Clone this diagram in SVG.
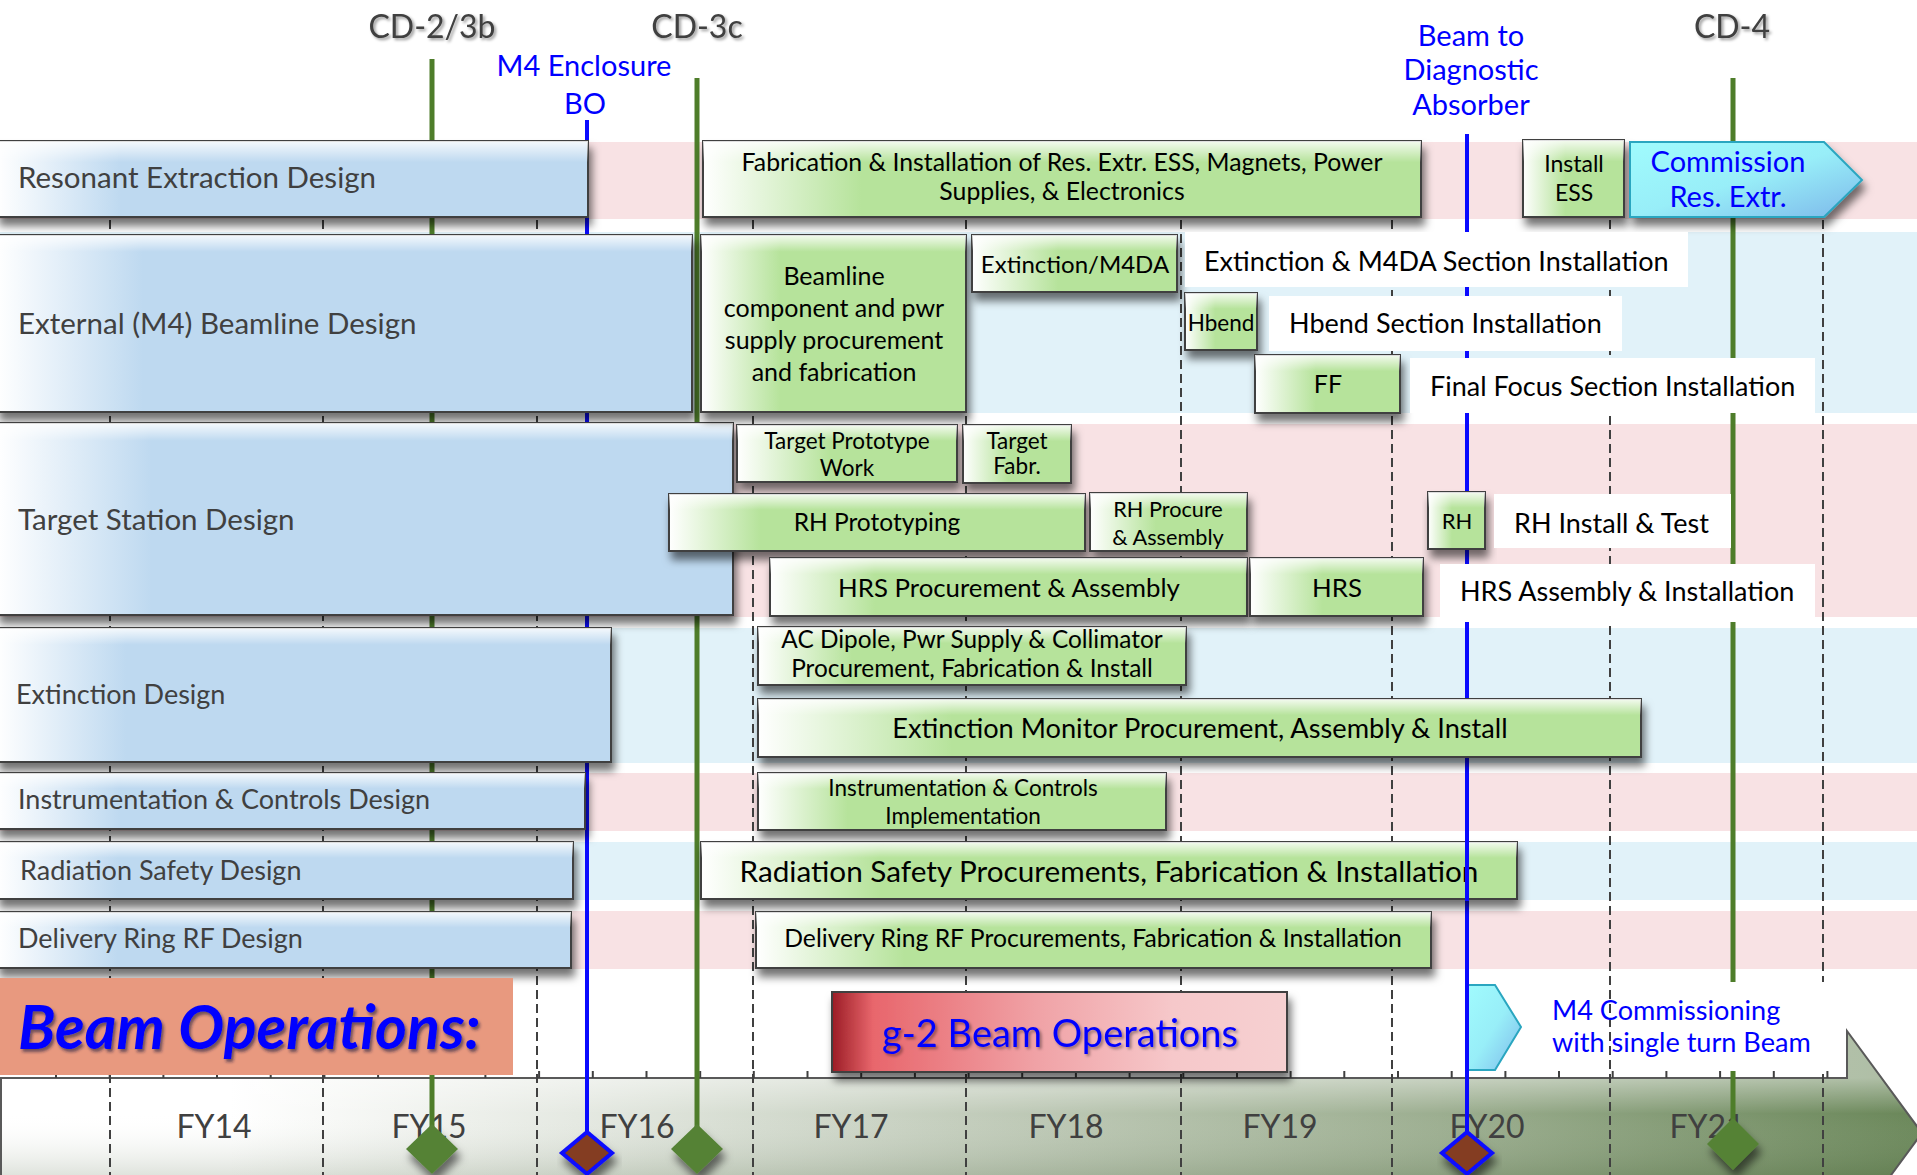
<svg xmlns="http://www.w3.org/2000/svg" width="1917" height="1175" viewBox="0 0 1917 1175">
  <defs>
    <style>
      text { font-family: Lato, "Liberation Sans", sans-serif; }
      .band-p { fill: #f8e2e4; }
      .band-b { fill: #e1f2f9; }
      .yr { stroke: #404040; stroke-width: 2; stroke-dasharray: 9 5; fill: none; }
      .tick { stroke: #404040; stroke-width: 2; fill: none; }
      .ms-g { stroke: #4e7d2a; stroke-width: 5; }
      .ms-b { stroke: #0a0aff; stroke-width: 4; }
      .dia-g { fill: #548235; filter: url(#sh); }
      .dia-b { fill: #843c22; stroke: #0a0aff; stroke-width: 4; filter: url(#sh); }
      .design { fill: url(#gBlue); stroke: #3f3f3f; stroke-width: 2; filter: url(#sh); }
      .taskL { fill: url(#gGreenL); stroke: #3f3f3f; stroke-width: 2; filter: url(#sh); }
      .taskM { fill: url(#gGreenM); stroke: #3f3f3f; stroke-width: 2; filter: url(#sh); }
      .taskS { fill: url(#gGreenS); stroke: #3f3f3f; stroke-width: 2; filter: url(#sh); }
      .hl { fill: url(#gHl); stroke: none; }
      .note { fill: #ffffff; }
      .dl { font-size: 29.5px; fill: #404040; }
      .dls { font-size: 27px; fill: #404040; }
      .tt { fill: #000000; text-anchor: middle; }
      .nt { fill: #000000; font-size: 27px; }
      .cd { font-size: 32px; fill: #404040; text-anchor: middle; filter: url(#tsh); }
      .bl { font-size: 29px; fill: #0000ff; text-anchor: middle; }
      .fy { font-size: 32px; fill: #404040; text-anchor: middle; }
      .cyan { fill: url(#gCyan); stroke: #2aa6c0; stroke-width: 2; filter: url(#sh); }
    </style>
    <filter id="sh" x="-10%" y="-20%" width="130%" height="160%">
      <feDropShadow dx="3" dy="8" stdDeviation="4" flood-color="#000000" flood-opacity="0.55"/>
    </filter>
    <filter id="tsh" x="-10%" y="-20%" width="130%" height="160%">
      <feDropShadow dx="2" dy="2" stdDeviation="1.5" flood-color="#000000" flood-opacity="0.4"/>
    </filter>
    <filter id="tsh2" x="-10%" y="-20%" width="130%" height="160%">
      <feDropShadow dx="2" dy="3" stdDeviation="1.5" flood-color="#1a1a40" flood-opacity="0.6"/>
    </filter>
    <linearGradient id="gBlue" x1="0" y1="0" x2="1" y2="0">
      <stop offset="0" stop-color="#ffffff"/>
      <stop offset="0.21" stop-color="#bed9f0"/>
      <stop offset="1" stop-color="#bed9f0"/>
    </linearGradient>
    <linearGradient id="gGreenL" x1="0" y1="0" x2="1" y2="0">
      <stop offset="0" stop-color="#ffffff"/>
      <stop offset="0.22" stop-color="#b6e39b"/>
      <stop offset="1" stop-color="#b6e39b"/>
    </linearGradient>
    <linearGradient id="gGreenM" x1="0" y1="0" x2="1" y2="0">
      <stop offset="0" stop-color="#ffffff"/>
      <stop offset="0.3" stop-color="#b6e39b"/>
      <stop offset="1" stop-color="#b6e39b"/>
    </linearGradient>
    <linearGradient id="gGreenS" x1="0" y1="0" x2="1" y2="0">
      <stop offset="0" stop-color="#ffffff"/>
      <stop offset="0.42" stop-color="#b6e39b"/>
      <stop offset="1" stop-color="#b6e39b"/>
    </linearGradient>
    <linearGradient id="gHl" x1="0" y1="0" x2="0" y2="1">
      <stop offset="0" stop-color="#ffffff" stop-opacity="0.85"/>
      <stop offset="0.28" stop-color="#ffffff" stop-opacity="0"/>
    </linearGradient>
    <linearGradient id="gCyan" x1="0" y1="0" x2="1" y2="1">
      <stop offset="0" stop-color="#a0fbfd"/>
      <stop offset="0.5" stop-color="#98eef8"/>
      <stop offset="1" stop-color="#7db8ea"/>
    </linearGradient>
    <linearGradient id="gRed" x1="0" y1="0" x2="1" y2="0">
      <stop offset="0" stop-color="#9b1c25"/>
      <stop offset="0.09" stop-color="#e8666c"/>
      <stop offset="0.45" stop-color="#f0a2a6"/>
      <stop offset="0.75" stop-color="#f6c8ca"/>
      <stop offset="1" stop-color="#f6d0d1"/>
    </linearGradient>
    <linearGradient id="gAxis" x1="0" y1="0" x2="1920" y2="0" gradientUnits="userSpaceOnUse">
      <stop offset="0" stop-color="#ffffff"/>
      <stop offset="0.12" stop-color="#ffffff"/>
      <stop offset="0.3" stop-color="#e5e9e2"/>
      <stop offset="0.5" stop-color="#c3cdbc"/>
      <stop offset="0.75" stop-color="#9cae90"/>
      <stop offset="1" stop-color="#6a8759"/>
    </linearGradient>
    <linearGradient id="gAxisV" x1="0" y1="1078" x2="0" y2="1180" gradientUnits="userSpaceOnUse">
      <stop offset="0" stop-color="#ffffff" stop-opacity="0.45"/>
      <stop offset="0.35" stop-color="#ffffff" stop-opacity="0"/>
      <stop offset="1" stop-color="#2f4a1f" stop-opacity="0.18"/>
    </linearGradient>
  </defs>

  <rect x="0" y="0" width="1917" height="1175" fill="#ffffff"/>

  <!-- row bands -->
  <g id="bands">
    <rect class="band-p" x="0" y="142" width="1917" height="77"/>
    <rect class="band-b" x="0" y="232" width="1917" height="181"/>
    <rect class="band-p" x="0" y="424" width="1917" height="193"/>
    <rect class="band-b" x="0" y="628" width="1917" height="135"/>
    <rect class="band-p" x="0" y="773" width="1917" height="58"/>
    <rect class="band-b" x="0" y="842" width="1917" height="58"/>
    <rect class="band-p" x="0" y="911" width="1917" height="58"/>
  </g>

  <!-- fiscal-year time axis -->
  <g id="axis">
    <path d="M -2 1078 H 1847 V 1031 L 1922 1133 L 1847 1235 V 1182 H -2 Z" fill="url(#gAxis)"/>
    <path d="M -2 1078 H 1847 V 1031 L 1922 1133 L 1847 1235 V 1182 H -2 Z" fill="url(#gAxisV)" stroke="#595959" stroke-width="2"/>
    <line x1="1" y1="1078" x2="1" y2="1175" stroke="#595959" stroke-width="2"/>
    <path class="tick" d="M56 1071V1078M109.7 1071V1078M163.4 1071V1078M217 1071V1078M270.7 1071V1078M324.4 1071V1078M378.1 1071V1078M431.8 1071V1078M485.4 1071V1078M539.1 1071V1078M592.8 1071V1078M646.5 1071V1078M700.2 1071V1078M753.8 1071V1078M807.5 1071V1078M861.2 1071V1078M914.9 1071V1078M968.6 1071V1078M1022.2 1071V1078M1075.9 1071V1078M1129.6 1071V1078M1183.3 1071V1078M1237 1071V1078M1290.6 1071V1078M1344.3 1071V1078M1398 1071V1078M1451.7 1071V1078M1505.4 1071V1078M1559 1071V1078M1612.7 1071V1078M1666.4 1071V1078M1720.1 1071V1078M1773.8 1071V1078M1827.4 1071V1078"/>
    <text class="fy" x="214" y="1138">FY14</text>
    <text class="fy" x="429" y="1138">FY15</text>
    <text class="fy" x="637" y="1138">FY16</text>
    <text class="fy" x="851" y="1138">FY17</text>
    <text class="fy" x="1066" y="1138">FY18</text>
    <text class="fy" x="1280" y="1138">FY19</text>
    <text class="fy" x="1487" y="1138">FY20</text>
    <text class="fy" x="1707" y="1138">FY21</text>
  </g>

  <!-- year boundaries -->
  <g id="year-lines">
    <path class="yr" d="M110 220V1175M323 220V1175M537 220V1175M753 220V1175M966 220V1175M1181 220V1175M1392 220V1175M1610 220V1175M1823 220V1175"/>
  </g>

  <!-- milestone lines -->
  <g id="connectors">
    <line class="ms-g" x1="432" y1="59" x2="432" y2="1150"/>
    <line class="ms-b" x1="587" y1="120" x2="587" y2="1150"/>
    <line class="ms-g" x1="697" y1="78" x2="697" y2="1150"/>
    <line class="ms-b" x1="1467" y1="134" x2="1467" y2="1150"/>
    <line class="ms-g" x1="1733" y1="78" x2="1733" y2="1145"/>
  </g>

  <rect class="note" x="1640" y="982" width="206" height="89"/>

  <!-- design phases -->
  <g id="design-resext">
    <rect class="design" x="-3" y="141" width="591" height="76"/>
    <rect class="hl" x="-3" y="141" width="591" height="76"/>
    <text class="dl" x="18" y="188">Resonant Extraction Design</text>
  </g>
  <g id="design-m4">
    <rect class="design" x="-3" y="235" width="695" height="177"/>
    <rect class="hl" x="-3" y="235" width="695" height="60"/>
    <text class="dl" x="18" y="334">External (M4) Beamline Design</text>
  </g>
  <g id="design-target">
    <rect class="design" x="-3" y="423" width="736" height="192"/>
    <rect class="hl" x="-3" y="423" width="736" height="64"/>
    <text class="dl" x="18" y="530">Target Station Design</text>
  </g>
  <g id="design-extinction">
    <rect class="design" x="-3" y="628" width="614" height="134"/>
    <rect class="hl" x="-3" y="628" width="614" height="60"/>
    <text class="dls" font-size="26" x="16" y="704">Extinction Design</text>
  </g>
  <g id="design-instr">
    <rect class="design" x="-3" y="773" width="588" height="56"/>
    <rect class="hl" x="-3" y="773" width="588" height="56"/>
    <text class="dls" x="18" y="809">Instrumentation &amp; Controls Design</text>
  </g>
  <g id="design-radsafety">
    <rect class="design" x="-3" y="842" width="576" height="57"/>
    <rect class="hl" x="-3" y="842" width="576" height="57"/>
    <text class="dls" x="20" y="880">Radiation Safety Design</text>
  </g>
  <g id="design-rf">
    <rect class="design" x="-3" y="912" width="574" height="56"/>
    <rect class="hl" x="-3" y="912" width="574" height="56"/>
    <text class="dls" x="18" y="948">Delivery Ring RF Design</text>
  </g>

  <!-- resonant extraction tasks -->
  <g id="task-resext-fab">
    <rect class="taskL" x="703" y="141" width="718" height="76"/>
    <rect class="hl" x="703" y="141" width="718" height="76"/>
    <text class="tt" font-size="24.8" x="1062" y="171">Fabrication &amp; Installation of Res. Extr. ESS, Magnets, Power</text>
    <text class="tt" font-size="24.8" x="1062" y="200">Supplies, &amp; Electronics</text>
  </g>
  <g id="task-install-ess">
    <rect class="taskS" x="1523" y="140" width="101" height="77"/>
    <rect class="hl" x="1523" y="140" width="101" height="77"/>
    <text class="tt" font-size="23" x="1574" y="172">Install</text>
    <text class="tt" font-size="23" x="1574" y="201">ESS</text>
  </g>
  <g id="task-commission-resext">
    <path class="cyan" d="M1630 142 H1824 L1862 180 L1824 217 H1630 Z"/>
    <text class="bl" font-size="26.5" x="1728" y="172">Commission</text>
    <text class="bl" font-size="26.5" x="1728" y="207">Res. Extr.</text>
  </g>

  <!-- M4 beamline tasks -->
  <g id="task-beamline-proc">
    <rect class="taskM" x="701" y="235" width="265" height="177"/>
    <rect class="hl" x="701" y="235" width="265" height="60"/>
    <text class="tt" font-size="25" x="834" y="285">Beamline</text>
    <text class="tt" font-size="25" x="834" y="317">component and pwr</text>
    <text class="tt" font-size="25" x="834" y="349">supply procurement</text>
    <text class="tt" font-size="25" x="834" y="381">and fabrication</text>
  </g>
  <g id="task-ext-m4da">
    <rect class="taskS" x="972" y="235" width="205" height="57"/>
    <rect class="hl" x="972" y="235" width="205" height="57"/>
    <text class="tt" font-size="24" x="1075" y="273">Extinction/M4DA</text>
  </g>
  <g id="note-ext-m4da">
    <rect class="note" x="1185" y="232" width="503" height="55"/>
    <text class="nt" font-size="26.7" x="1204" y="271">Extinction &amp; M4DA Section Installation</text>
  </g>
  <g id="task-hbend">
    <rect class="taskS" x="1185" y="293" width="72" height="57"/>
    <rect class="hl" x="1185" y="293" width="72" height="57"/>
    <text class="tt" font-size="22.5" x="1221" y="331">Hbend</text>
  </g>
  <g id="note-hbend">
    <rect class="note" x="1269" y="296" width="353" height="55"/>
    <text class="nt" font-size="26.5" x="1289" y="333">Hbend Section Installation</text>
  </g>
  <g id="task-ff">
    <rect class="taskS" x="1255" y="355" width="145" height="58"/>
    <rect class="hl" x="1255" y="355" width="145" height="58"/>
    <text class="tt" font-size="25" x="1328" y="393">FF</text>
  </g>
  <g id="note-ff">
    <rect class="note" x="1410" y="358" width="405" height="55"/>
    <text class="nt" font-size="26.8" x="1430" y="396">Final Focus Section Installation</text>
  </g>

  <!-- target station tasks -->
  <g id="task-target-proto">
    <rect class="taskS" x="737" y="425" width="220" height="57"/>
    <rect class="hl" x="737" y="425" width="220" height="57"/>
    <text class="tt" font-size="22.5" x="847" y="449">Target Prototype</text>
    <text class="tt" font-size="22.5" x="847" y="476">Work</text>
  </g>
  <g id="task-target-fabr">
    <rect class="taskS" x="963" y="425" width="108" height="58"/>
    <rect class="hl" x="963" y="425" width="108" height="58"/>
    <text class="tt" font-size="22.5" x="1017" y="449">Target</text>
    <text class="tt" font-size="22.5" x="1017" y="474">Fabr.</text>
  </g>
  <g id="task-rh-proto">
    <rect class="taskL" x="669" y="494" width="416" height="57"/>
    <rect class="hl" x="669" y="494" width="416" height="57"/>
    <text class="tt" font-size="24.5" x="877" y="531">RH Prototyping</text>
  </g>
  <g id="task-rh-procure">
    <rect class="taskS" x="1090" y="493" width="157" height="58"/>
    <rect class="hl" x="1090" y="493" width="157" height="58"/>
    <text class="tt" font-size="21.7" x="1168" y="517">RH Procure</text>
    <text class="tt" font-size="21.7" x="1168" y="545">&amp; Assembly</text>
  </g>
  <g id="task-rh">
    <rect class="taskS" x="1428" y="492" width="57" height="57"/>
    <rect class="hl" x="1428" y="492" width="57" height="57"/>
    <text class="tt" font-size="22" x="1457" y="529">RH</text>
  </g>
  <g id="note-rh">
    <rect class="note" x="1494" y="494" width="237" height="54"/>
    <text class="nt" font-size="27.3" x="1514" y="533">RH Install &amp; Test</text>
  </g>
  <g id="task-hrs-procure">
    <rect class="taskL" x="770" y="558" width="477" height="58"/>
    <rect class="hl" x="770" y="558" width="477" height="58"/>
    <text class="tt" font-size="25.8" x="1009" y="597">HRS Procurement &amp; Assembly</text>
  </g>
  <g id="task-hrs">
    <rect class="taskS" x="1250" y="558" width="173" height="58"/>
    <rect class="hl" x="1250" y="558" width="173" height="58"/>
    <text class="tt" font-size="25.8" x="1337" y="597">HRS</text>
  </g>
  <g id="note-hrs">
    <rect class="note" x="1440" y="564" width="375" height="58"/>
    <text class="nt" font-size="26.9" x="1460" y="601">HRS Assembly &amp; Installation</text>
  </g>

  <!-- extinction tasks -->
  <g id="task-ac-dipole">
    <rect class="taskL" x="758" y="627" width="428" height="58"/>
    <rect class="hl" x="758" y="627" width="428" height="58"/>
    <text class="tt" font-size="24.4" x="972" y="648">AC Dipole, Pwr Supply &amp; Collimator</text>
    <text class="tt" font-size="24.4" x="972" y="677">Procurement, Fabrication &amp; Install</text>
  </g>
  <g id="task-ext-monitor">
    <rect class="taskL" x="758" y="699" width="883" height="58"/>
    <rect class="hl" x="758" y="699" width="883" height="58"/>
    <text class="tt" font-size="27.2" x="1200" y="738">Extinction Monitor Procurement, Assembly &amp; Install</text>
  </g>

  <!-- instrumentation, radiation safety, RF tasks -->
  <g id="task-instr-impl">
    <rect class="taskL" x="758" y="773" width="408" height="57"/>
    <rect class="hl" x="758" y="773" width="408" height="57"/>
    <text class="tt" font-size="22.5" x="963" y="796">Instrumentation &amp; Controls</text>
    <text class="tt" font-size="22.5" x="963" y="824">Implementation</text>
  </g>
  <g id="task-radsafety">
    <rect class="taskL" x="701" y="842" width="816" height="57"/>
    <rect class="hl" x="701" y="842" width="816" height="57"/>
    <text class="tt" font-size="29.7" x="1109" y="882">Radiation Safety Procurements, Fabrication &amp; Installation</text>
  </g>
  <line class="ms-b" x1="1467" y1="840" x2="1467" y2="901"/>
  <g id="task-rf">
    <rect class="taskL" x="756" y="912" width="675" height="56"/>
    <rect class="hl" x="756" y="912" width="675" height="56"/>
    <text class="tt" font-size="24.7" x="1093" y="947">Delivery Ring RF Procurements, Fabrication &amp; Installation</text>
  </g>

  <!-- beam operations row -->
  <g id="beam-ops-label">
    <rect x="0" y="978" width="513" height="97" fill="#e8997f"/>
    <text x="18" y="1049" font-size="61" font-weight="bold" font-style="italic" fill="#0000ff" filter="url(#tsh2)">Beam Operations:</text>
  </g>
  <g id="g2-beam-ops">
    <rect x="832" y="992" width="455" height="80" fill="url(#gRed)" stroke="#3f3f3f" stroke-width="2" filter="url(#sh)"/>
    <text x="1060" y="1047" font-size="38" fill="#0000ff" text-anchor="middle" filter="url(#tsh)">g-2 Beam Operations</text>
  </g>
  <g id="m4-commissioning">
    <path d="M1468 985 H1495 L1521 1027 L1495 1070 H1468 Z" fill="url(#gCyan)" stroke="#2aa6c0" stroke-width="2"/>
    <line class="ms-b" x1="1467" y1="980" x2="1467" y2="1075"/>
    <text x="1552" y="1020" font-size="27.1" fill="#0000ff">M4 Commissioning</text>
    <text x="1552" y="1052" font-size="27.1" fill="#0000ff">with single turn Beam</text>
  </g>

  <!-- milestone diamonds -->
  <g id="milestones">
    <path class="dia-g" d="M432 1124 L458 1149 L432 1174 L406 1149 Z"/>
    <path class="dia-b" d="M587 1132 L612 1153 L587 1174 L562 1153 Z"/>
    <path class="dia-g" d="M697 1124 L723 1149 L697 1174 L671 1149 Z"/>
    <path class="dia-b" d="M1467 1132 L1492 1153 L1467 1174 L1442 1153 Z"/>
    <path class="dia-g" d="M1733 1118 L1759 1144 L1733 1170 L1707 1144 Z"/>
  </g>

  <!-- milestone captions -->
  <g id="milestone-labels">
    <text class="cd" x="432" y="38">CD-2/3b</text>
    <text class="cd" x="697" y="38">CD-3c</text>
    <text class="cd" x="1732" y="38">CD-4</text>
    <text class="bl" x="584" y="76">M4 Enclosure</text>
    <text class="bl" x="585" y="114">BO</text>
    <text class="bl" x="1471" y="46">Beam to</text>
    <text class="bl" x="1471" y="80">Diagnostic</text>
    <text class="bl" x="1471" y="115">Absorber</text>
  </g>
</svg>
